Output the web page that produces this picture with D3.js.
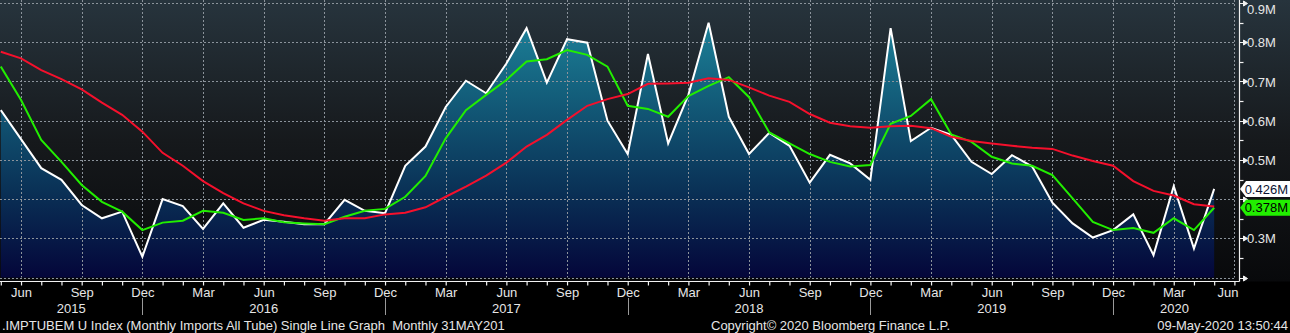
<!DOCTYPE html>
<html>
<head>
<meta charset="utf-8">
<script src="https://cdn.jsdelivr.net/npm/d3@7/dist/d3.min.js"></script>
<style>
  html, body { margin: 0; padding: 0; background: #000; }
  svg { display: block; }
  text { font-family: "Liberation Sans", Arial, sans-serif; white-space: pre; }
</style>
</head>
<body>
<svg id="chart" width="1290" height="333"></svg>
<script>
// Monthly imports, all tube (millions), May 2015 – May 2020
const firstMonth = new Date(2015, 4, 1);
const imports = [
  0.627, 0.553, 0.479, 0.449, 0.385, 0.351, 0.368, 0.253,
  0.400, 0.382, 0.324, 0.389, 0.327, 0.347, 0.342, 0.336, 0.336, 0.398, 0.370, 0.364,
  0.485, 0.534, 0.635, 0.702, 0.670, 0.746, 0.836, 0.697, 0.808, 0.799, 0.600, 0.515,
  0.770, 0.542, 0.666, 0.850, 0.610, 0.515, 0.569, 0.536, 0.442, 0.513, 0.491, 0.449,
  0.836, 0.548, 0.582, 0.564, 0.495, 0.464, 0.512, 0.483, 0.391, 0.338, 0.302, 0.321,
  0.361, 0.257, 0.433, 0.274, 0.426
];
// 3-month moving average
const avg3 = [
  0.738, 0.653, 0.551, 0.495, 0.436, 0.393, 0.368, 0.321,
  0.340, 0.345, 0.370, 0.365, 0.347, 0.351, 0.341, 0.338, 0.336, 0.355, 0.370, 0.375,
  0.406, 0.459, 0.555, 0.627, 0.666, 0.704, 0.751, 0.757, 0.780, 0.768, 0.738, 0.638,
  0.630, 0.610, 0.663, 0.689, 0.711, 0.660, 0.570, 0.542, 0.515, 0.495, 0.483, 0.487,
  0.592, 0.612, 0.655, 0.565, 0.546, 0.508, 0.491, 0.485, 0.461, 0.402, 0.342, 0.321,
  0.326, 0.314, 0.351, 0.321, 0.378
];
// 12-month moving average
const avg12 = [
  0.776, 0.759, 0.729, 0.706, 0.680, 0.646, 0.615, 0.572,
  0.518, 0.485, 0.446, 0.415, 0.389, 0.370, 0.359, 0.351, 0.345, 0.351, 0.351, 0.361,
  0.365, 0.379, 0.406, 0.432, 0.460, 0.493, 0.534, 0.564, 0.602, 0.638, 0.655, 0.668,
  0.694, 0.695, 0.697, 0.708, 0.704, 0.685, 0.664, 0.648, 0.617, 0.595, 0.586, 0.582,
  0.586, 0.587, 0.581, 0.559, 0.548, 0.542, 0.536, 0.531, 0.528, 0.511, 0.497, 0.485,
  0.446, 0.421, 0.409, 0.387, 0.381
];
const yTicks = [0.2, 0.25, 0.3, 0.35, 0.4, 0.45, 0.5, 0.55, 0.6, 0.65, 0.7, 0.75, 0.8, 0.85, 0.9];
const yLabelTicks = [0.3, 0.5, 0.6, 0.7, 0.8, 0.9];
const monthNames = ["Jan","Feb","Mar","Apr","May","Jun","Jul","Aug","Sep","Oct","Nov","Dec"];
const footerLeft = ".IMPTUBEM U Index (Monthly Imports All Tube) Single Line Graph  Monthly 31MAY201";
const footerMid = "Copyright\u00A9 2020 Bloomberg Finance L.P.";
const footerRight = "09-May-2020 13:50:44";

const months = d3.range(imports.length + 1).map(i => d3.timeMonth.offset(firstMonth, i));
const nMonths = months.length - 1; // last slot is the empty Jun 2020 position

const W = 1290, H = 333;
const FS = 13;
const TXT = "#e6e6e6";
const plotBottom = 277.5, axisY = 281.5, axisX = 1239.5;
const svg = d3.select("#chart");
const defs = svg.append("defs");

const x = d3.scaleLinear().domain([0, nMonths]).range([0.8, 1234.4]);
const y = d3.scaleLinear().domain([0.2, 0.9]).range([plotBottom, 3.1]);

// background
const bg = defs.append("linearGradient").attr("id", "bg")
  .attr("gradientUnits", "userSpaceOnUse").attr("x1", 0).attr("y1", 0).attr("x2", 0).attr("y2", axisY);
bg.append("stop").attr("offset", 0).attr("stop-color", "#27343d");
bg.append("stop").attr("offset", 0.5).attr("stop-color", "#16191c");
bg.append("stop").attr("offset", 1).attr("stop-color", "#08090b");
svg.append("rect").attr("width", W).attr("height", H).attr("fill", "#000");
svg.append("rect").attr("width", W).attr("height", axisY).attr("fill", "url(#bg)");

// area under the imports series
const ag = defs.append("linearGradient").attr("id", "area")
  .attr("gradientUnits", "userSpaceOnUse").attr("x1", 0).attr("y1", 0).attr("x2", 0).attr("y2", plotBottom);
ag.append("stop").attr("offset", 0).attr("stop-color", "#1f8ba1");
ag.append("stop").attr("offset", 0.35).attr("stop-color", "#135d7a");
ag.append("stop").attr("offset", 0.68).attr("stop-color", "#0a3257");
ag.append("stop").attr("offset", 1).attr("stop-color", "#04063a");

svg.append("path")
  .datum(imports)
  .attr("fill", "url(#area)")
  .attr("d", d3.area().x((d, i) => x(i)).y0(plotBottom).y1(d => y(d)));

// grid
const grid = svg.append("g").attr("stroke", "#8b939b").attr("stroke-width", 1)
  .attr("stroke-dasharray", "2,2").attr("fill", "none");
const quarterIdx = d3.range(0, nMonths + 1).filter(i => months[i].getMonth() % 3 === 2);
grid.selectAll(".v").data(quarterIdx).join("line")
  .attr("x1", i => Math.round(x(i)) + 0.5).attr("x2", i => Math.round(x(i)) + 0.5)
  .attr("y1", 0).attr("y2", plotBottom);
grid.selectAll(".h").data(yTicks.filter((v, i) => i % 2 === 0)).join("line")
  .attr("x1", 0).attr("x2", 1235)
  .attr("y1", v => Math.round(y(v)) + 0.5).attr("y2", v => Math.round(y(v)) + 0.5);

// series lines
const line = d3.line().x((d, i) => x(i)).y(d => y(d));
[[imports, "#ffffff"], [avg3, "#22ee00"], [avg12, "#f5102c"]].forEach(([data, color]) => {
  svg.append("path").datum(data)
    .attr("fill", "none").attr("stroke", color).attr("stroke-width", 2)
    .attr("stroke-linejoin", "miter").attr("d", line);
});

// x axis
const xAxis = d3.axisBottom(x)
  .tickValues(d3.range(0, nMonths + 1))
  .tickSize(4).tickSizeOuter(0).tickPadding(2)
  .tickFormat(i => months[i].getMonth() % 3 === 2 ? monthNames[months[i].getMonth()] : "");
const gx = svg.append("g").attr("transform", `translate(0,${axisY})`).call(xAxis);
gx.select(".domain").remove();
gx.append("line").attr("x1", 0).attr("x2", axisX).attr("y1", 0).attr("y2", 0)
  .attr("stroke", "#f2f2f2").attr("stroke-width", 1.2);
gx.selectAll(".tick line").attr("stroke", "#f2f2f2").attr("stroke-width", 1.2);
gx.selectAll(".tick text").attr("fill", TXT).attr("font-size", FS)
  .attr("font-family", null);
gx.selectAll(".tick text").filter(i => i === nMonths).attr("dx", -7);

// year separators and labels
const decIdx = d3.range(0, nMonths + 1).filter(i => months[i].getMonth() === 11);
svg.append("g").selectAll("line").data(decIdx).join("line")
  .attr("x1", i => Math.round(x(i)) + 0.5).attr("x2", i => Math.round(x(i)) + 0.5)
  .attr("y1", 298).attr("y2", 315).attr("stroke", "#9a9a9a");
const bounds = [0, ...decIdx.map(i => x(i)), 1236];
const years = d3.range(bounds.length - 1).map(k => ({
  label: months[0].getFullYear() + k,
  cx: (bounds[k] + bounds[k + 1]) / 2
}));
svg.append("g").selectAll("text").data(years).join("text")
  .attr("x", d => d.cx).attr("y", 312.5).attr("text-anchor", "middle")
  .attr("fill", TXT).attr("font-size", FS).text(d => d.label);

// y axis
const gy = svg.append("g");
gy.append("line").attr("x1", axisX).attr("x2", axisX).attr("y1", 0).attr("y2", axisY)
  .attr("stroke", "#f2f2f2").attr("stroke-width", 1.2);
yTicks.forEach((v, i) => {
  const ty = Math.round(y(v)) + 0.5;
  if (i % 2 === 0) {
    gy.append("path")
      .attr("d", `M${axisX},${ty}H${axisX + 5}M${axisX + 4},${ty - 2.5}L${axisX + 8},${ty}L${axisX + 4},${ty + 2.5}Z`)
      .attr("stroke", "#f2f2f2").attr("fill", "#f2f2f2").attr("stroke-width", 1);
  } else {
    gy.append("line").attr("x1", axisX).attr("x2", axisX + 4).attr("y1", ty).attr("y2", ty)
      .attr("stroke", "#f2f2f2").attr("stroke-width", 1.2);
  }
});
gy.selectAll("text").data(yLabelTicks).join("text")
  .attr("x", 1247).attr("y", v => Math.max(y(v), 9) + 0.5).attr("dy", "0.36em")
  .attr("fill", TXT).attr("font-size", FS)
  .text(v => `${d3.format(".1f")(v)}M`);

// last-value tags
const tags = [
  { value: imports[imports.length - 1], fill: "#ffffff", text: "#0b1433" },
  { value: avg3[avg3.length - 1], fill: "#22ee00", text: "#000000" }
];
const tg = svg.append("g");
tags.forEach(t => {
  const cy = y(t.value), x0 = 1240, x1 = 1290, h = 8;
  tg.append("path")
    .attr("d", `M${x0},${cy}L${x0 + 6},${cy - h}H${x1}V${cy + h}H${x0 + 6}Z`)
    .attr("fill", t.fill);
  tg.append("text").attr("x", 1288).attr("y", cy).attr("dy", "0.36em")
    .attr("text-anchor", "end").attr("fill", t.text).attr("font-size", FS)
    .text(`${d3.format(".3f")(t.value)}M`);
});

// footer
const foot = svg.append("g").attr("fill", TXT).attr("font-size", FS);
foot.append("text").attr("x", 2).attr("y", 329.5).text(footerLeft);
foot.append("text").attr("x", 711).attr("y", 329.5).text(footerMid);
foot.append("text").attr("x", 1288).attr("y", 329.5).attr("text-anchor", "end").text(footerRight);
</script>
</body>
</html>
